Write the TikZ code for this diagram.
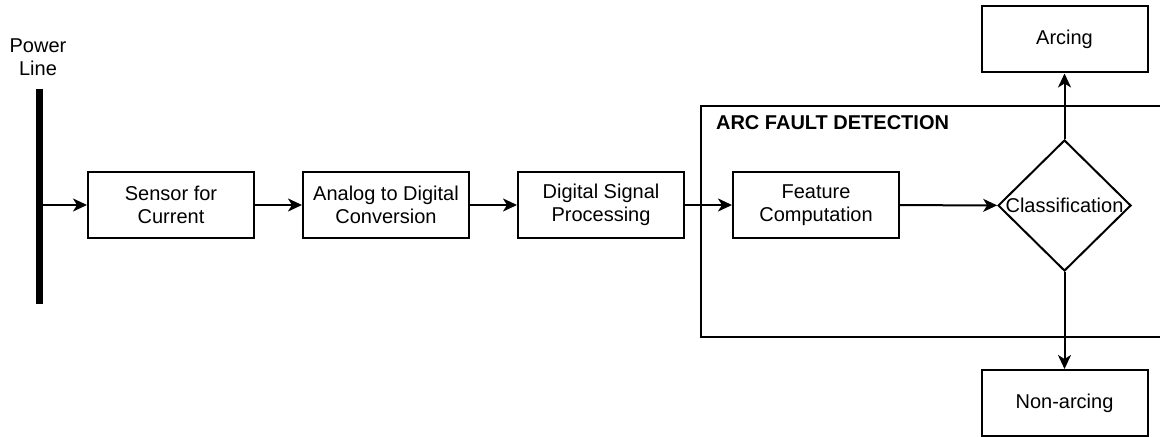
\documentclass[tikz,border=0pt]{standalone}
\usepackage{fontspec}
\setmainfont{Liberation Sans}
\usepackage{tikz}
\usetikzlibrary{shapes.geometric,arrows.meta,positioning}

\begin{document}
\begin{tikzpicture}[x=0.5pt, y=-0.5pt,
    font=\fontsize{10}{11.3}\selectfont,
    block/.style={rectangle, draw, line width=1pt, minimum width=83pt, minimum height=33pt, inner sep=0pt, align=center},
    decide/.style={diamond, draw, line width=1pt, minimum width=66.5pt, minimum height=65.5pt, inner sep=0pt},
    flow/.style={-{Stealth[length=7pt,width=6.5pt,inset=2pt]}, line width=1pt}
]
\useasboundingbox (0,0) rectangle (1160,437);

% Power line
\node[align=center] (pline) at (38,57) {Power\\Line};
\draw[line width=3.5pt] (39.5,89) -- (39.5,304);
\coordinate (tap) at (43,205);

% Signal chain
\node[block] (sensor) at (171,205) {Sensor for\\Current};
\node[block] (adc) at (386,205) {Analog to Digital\\Conversion};
\node[block] (dsp) at (601,205) {Digital Signal\\Processing};

% Detection frame (runs off the right edge)
\draw[line width=1pt] (1170,106) -- (701,106) -- (701,337) -- (1170,337);
\node[anchor=base west, font=\fontsize{10}{11.3}\selectfont\bfseries] (title) at (709,130) {ARC FAULT DETECTION};

\node[block] (feat) at (816,205) {Feature\\Computation};
\node[decide, label=center:Classification] (cls) at (1064.5,205.5) {};

% Outcomes
\node[block] (arc) at (1064.5,39.5) {Arcing};
\node[block] (non) at (1064.5,403) {Non-arcing};

% Connections
\draw[flow] (tap) -- (sensor);
\draw[flow] (sensor) -- (adc);
\draw[flow] (adc) -- (dsp);
\draw[flow] (dsp) -- (feat);
\draw[flow] (feat) -- (cls);
\draw[flow] (cls) -- (arc);
\draw[flow] (cls) -- (non);

\end{tikzpicture}
\end{document}
